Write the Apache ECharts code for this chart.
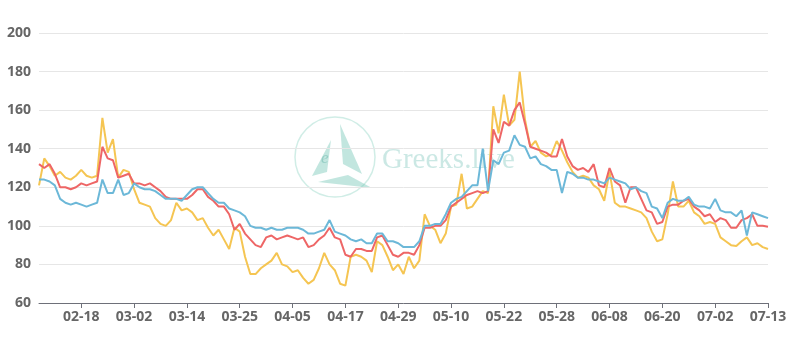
<!DOCTYPE html>
<html>
<head>
<meta charset="utf-8">
<script src="https://cdn.jsdelivr.net/npm/echarts@6/dist/echarts.min.js"></script>
<style>
  html, body { margin: 0; padding: 0; background: #fff; }
  #main { width: 799px; height: 346px; }
</style>
</head>
<body>
<div id="main"></div>
<script>
// tick labels on the x axis (every 10th point)
var tickLabels = ['02-18', '03-02', '03-14', '03-25', '04-05', '04-17', '04-29',
  '05-10', '05-22', '05-28', '06-08', '06-20', '07-02', '07-13'];
var stepPerTick = 10;
var leadPoints = 8;

// series values
var yellowVals = [121, 135, 131, 126, 128, 125, 124, 126, 129, 126,
  125, 126, 156, 138, 145, 125, 129, 128, 119, 112,
  111, 110, 104, 101, 100, 103, 112, 108, 109, 107,
  103, 104, 99, 95, 98, 93, 88, 99, 97, 84,
  75, 75, 78, 80, 82, 86, 80, 79, 76, 77,
  73, 70, 72, 78, 86, 80, 77, 70, 69, 84,
  85, 84, 82, 76, 92, 90, 84, 77, 80, 75,
  84, 78, 82, 106, 100, 98, 91, 96, 110, 111,
  127, 109, 110, 114, 118, 117, 162, 148, 168, 152,
  155, 180, 155, 141, 144, 138, 136, 137, 144, 139,
  133, 128, 125, 126, 125, 121, 119, 113, 128, 112,
  110, 110, 109, 108, 107, 104, 97, 92, 93, 106,
  123, 110, 110, 113, 107, 105, 101, 102, 101, 94,
  92, 90, 89.5, 92, 94, 90, 91, 89, 88];

var redVals = [132, 130, 132, 127, 120, 120, 119, 120, 122, 121,
  122, 123, 141, 135, 134, 125, 126, 127, 122, 122,
  121, 122, 120, 118, 115, 114, 114, 114, 114, 116,
  119, 119, 115, 113, 110, 110, 106, 98, 101, 96,
  93, 90, 89, 94, 95, 93, 94, 95, 94, 93,
  94, 89, 90, 93, 95, 99, 94, 93, 85, 84,
  88, 88, 87, 87, 94, 95, 90, 85, 84, 86,
  86, 85, 90, 99, 99, 100, 100, 103, 110, 112,
  114, 116, 117, 118, 117, 118, 150, 143, 154, 152,
  160, 164, 153, 141, 140, 139, 138, 136, 136, 145,
  136, 131, 129, 130, 128, 132, 121, 120, 130, 123,
  121, 112, 120, 120, 114, 108, 107, 101, 102, 110,
  111, 111, 113, 114, 110, 108, 105, 106, 102, 104,
  103, 99, 99, 103, 104, 106, 100, 100, 99.5];

var blueVals = [124, 124, 123, 121, 114, 112, 111, 112, 111, 110,
  111, 112, 124, 117, 117, 124, 116, 117, 122, 120,
  119, 119, 118, 116, 114, 114, 114, 113, 116, 119,
  120, 120, 117, 114, 112, 112, 109, 108, 107, 105,
  100, 99, 99, 98, 99, 98, 98, 99, 99, 99,
  98, 96, 96, 97, 98, 103, 97, 96, 95, 93,
  92, 93, 91, 91, 96, 96, 92, 92, 91, 89,
  89, 89, 92, 100, 100, 101, 101, 106, 112, 114,
  115, 118, 121, 121, 140, 118, 134, 132, 138, 139,
  147, 142, 141, 135, 136, 132, 131, 129, 129, 117,
  128, 127, 125, 125, 124, 124, 123, 122, 125, 124,
  123, 122, 119, 120, 118, 117, 110, 109, 104, 112,
  114, 113, 113, 115, 111, 110, 110, 109, 114, 108,
  107, 107, 105, 108, 95, 107, 106, 105, 104];

// build one category per point from the tick dates
function toDate(md) {
  var p = md.split('-');
  return new Date(Date.UTC(2022, +p[0] - 1, +p[1])).getTime();
}
function pad(n) { return (n < 10 ? '0' : '') + n; }
function fmt(t) {
  var d = new Date(t);
  return pad(d.getUTCMonth() + 1) + '-' + pad(d.getUTCDate()) + ' ' + pad(d.getUTCHours()) + ':' + pad(d.getUTCMinutes());
}
var categories = [];
var firstGap = (toDate(tickLabels[1]) - toDate(tickLabels[0])) / stepPerTick;
for (var i = leadPoints; i > 0; i--) {
  categories.push(fmt(toDate(tickLabels[0]) - i * firstGap));
}
for (var k = 0; k < tickLabels.length - 1; k++) {
  var a = toDate(tickLabels[k]), b = toDate(tickLabels[k + 1]);
  for (var j = 0; j < stepPerTick; j++) {
    categories.push(fmt(a + j * (b - a) / stepPerTick));
  }
}
categories.push(fmt(toDate(tickLabels[tickLabels.length - 1])));

function isTick(idx) {
  return idx >= leadPoints && (idx - leadPoints) % stepPerTick === 0;
}

var myChart = echarts.init(document.getElementById('main'));

var wmColor = 'rgba(120, 200, 185, 0.45)';

var option = {
  animation: false,
  backgroundColor: '#fff',
  grid: { left: 39, right: 31, top: 33, bottom: 43 },
  xAxis: {
    type: 'category',
    boundaryGap: false,
    data: categories,
    axisLine: { lineStyle: { color: '#6e7079' } },
    axisTick: { interval: isTick, length: 5, lineStyle: { color: '#6e7079' } },
    axisLabel: {
      interval: isTick,
      formatter: function (v) { return v.slice(0, 5); },
      color: '#666',
      fontSize: 14,
      fontWeight: 'bold',
      fontFamily: 'Open Sans',
      margin: 7
    }
  },
  yAxis: {
    type: 'value',
    min: 60,
    max: 200,
    interval: 20,
    axisLine: { show: false },
    axisTick: { show: false },
    splitLine: { lineStyle: { color: '#e6e6e6' } },
    axisLabel: {
      color: '#666',
      fontSize: 14,
      fontWeight: 'bold',
      fontFamily: 'Open Sans',
      margin: 8
    }
  },
  graphic: [
    {
      type: 'circle',
      shape: { cx: 335, cy: 157, r: 40 },
      style: { fill: 'none', stroke: 'rgba(150, 215, 200, 0.45)', lineWidth: 1.5 },
      z: -1
    },
    {
      type: 'polygon',
      shape: { points: [[331, 140], [312, 176], [327, 172]] },
      style: { fill: wmColor },
      z: -1
    },
    {
      type: 'polygon',
      shape: { points: [[340, 124], [362, 174], [343, 164]] },
      style: { fill: wmColor },
      z: -1
    },
    {
      type: 'polygon',
      shape: { points: [[318, 182], [372, 188], [348, 175]] },
      style: { fill: wmColor },
      z: -1
    },
    {
      type: 'text',
      left: 321,
      top: 150,
      style: { text: 'e', fill: 'rgba(120, 190, 180, 0.6)', font: 'italic 17px "Liberation Serif"' },
      z: -1
    },
    {
      type: 'text',
      left: 382,
      top: 146,
      style: { text: 'Greeks.live', fill: 'rgba(140, 205, 195, 0.45)', font: '29px "Liberation Serif"' },
      z: -1
    }
  ],
  series: [
    {
      name: 'yellow',
      type: 'line',
      data: yellowVals,
      showSymbol: false,
      lineStyle: { width: 2, color: '#f5c552' },
      itemStyle: { color: '#f5c552' }
    },
    {
      name: 'red',
      type: 'line',
      data: redVals,
      showSymbol: false,
      lineStyle: { width: 2, color: '#ee6666' },
      itemStyle: { color: '#ee6666' }
    },
    {
      name: 'blue',
      type: 'line',
      data: blueVals,
      showSymbol: false,
      lineStyle: { width: 2, color: '#6cb8d8' },
      itemStyle: { color: '#6cb8d8' }
    }
  ]
};

myChart.setOption(option);
</script>
</body>
</html>
